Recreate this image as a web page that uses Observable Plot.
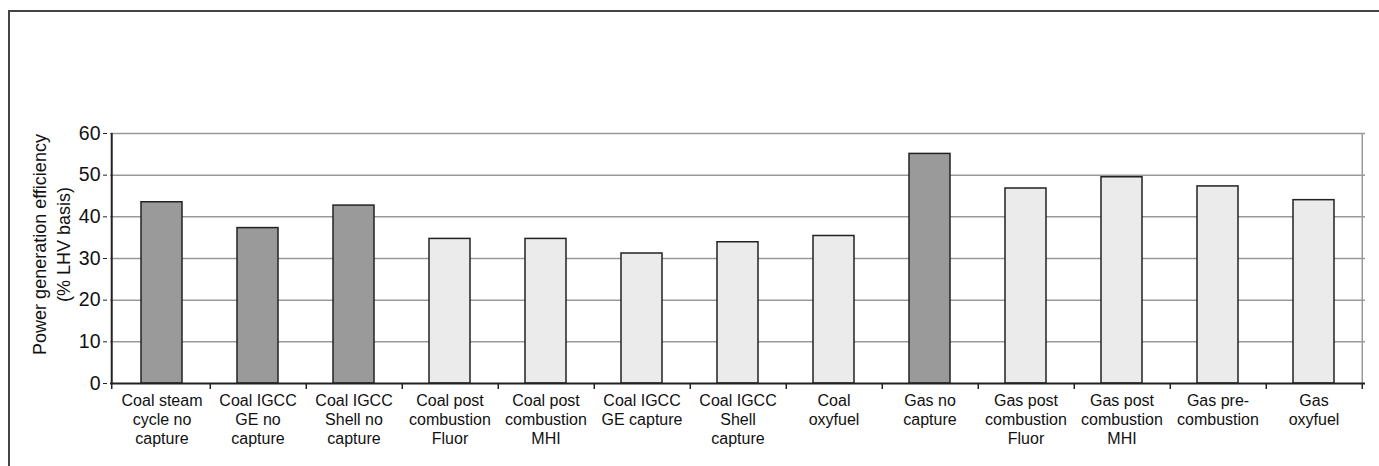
<!DOCTYPE html>
<html>
<head>
<meta charset="utf-8">
<script src="https://cdn.jsdelivr.net/npm/d3@7"></script>
<script src="https://cdn.jsdelivr.net/npm/@observablehq/plot@0.6"></script>
<style>
  html, body { margin: 0; padding: 0; background: #fff; }
  #wrap { position: relative; width: 1379px; height: 466px; overflow: hidden; }
  #border { position: absolute; left: 8px; top: 10px; right: -4px; bottom: -4px;
            border-top: 2px solid #444; border-left: 2px solid #444; }
  #chart { position: absolute; left: 0; top: 0; }
</style>
</head>
<body>
<div id="wrap"><div id="border"></div><div id="chart"></div></div>
<script>
const categories = [
  "Coal steam\ncycle no\ncapture",
  "Coal IGCC\nGE no\ncapture",
  "Coal IGCC\nShell no\ncapture",
  "Coal post\ncombustion\nFluor",
  "Coal post\ncombustion\nMHI",
  "Coal IGCC\nGE capture",
  "Coal IGCC\nShell\ncapture",
  "Coal\noxyfuel",
  "Gas no\ncapture",
  "Gas post\ncombustion\nFluor",
  "Gas post\ncombustion\nMHI",
  "Gas pre-\ncombustion",
  "Gas\noxyfuel"
];
const efficiency = [43.5, 37.3, 42.7, 34.7, 34.7, 31.2, 33.9, 35.4, 55.1, 46.8, 49.5, 47.3, 44.0];
const noCapture = [true, true, true, false, false, false, false, false, true, false, false, false, false];
const yTicks = [0, 10, 20, 30, 40, 50, 60];
const yLabel = "Power generation efficiency\n(% LHV basis)";

const data = categories.map((c, i) => ({cat: c, value: efficiency[i], noCap: noCapture[i]}));

const W = 1379, H = 466, mL = 110, mR = 14, mT = 133, mB = 83;
const step = (W - mL - mR) / categories.length;
const pInner = 0.575;

const chart = Plot.plot({
  width: W, height: H,
  marginLeft: mL, marginRight: mR, marginTop: mT, marginBottom: mB,
  style: {fontFamily: "'Liberation Sans', Arial, Helvetica, sans-serif", color: "#111", background: "transparent"},
  x: {domain: categories, paddingInner: pInner, paddingOuter: pInner / 2, label: null},
  y: {domain: [0, 60], label: null},
  marks: [
    Plot.ruleY(yTicks.filter(d => d > 0), {stroke: "#999", strokeWidth: 1.5}),
    Plot.ruleX([categories[categories.length - 1]], {y1: 0, y2: 60, dx: step / 2, stroke: "#999", strokeWidth: 1.5}),
    Plot.barY(data, {x: "cat", y: "value", fill: d => d.noCap ? "#9a9a9a" : "#ebebeb", stroke: "#222", strokeWidth: 1.5}),
    Plot.ruleY([0], {stroke: "#222", strokeWidth: 2}),
    Plot.ruleX([categories[0]], {y1: 0, y2: 60, dx: -step / 2 - 2, stroke: "#222", strokeWidth: 2}),
    Plot.ruleX(categories, {y1: 0, y2: 0, dx: step / 2, insetBottom: -6, stroke: "#222", strokeWidth: 1.5}),
    Plot.ruleX([categories[0]], {y1: 0, y2: 0, dx: -step / 2 - 2, insetBottom: -6, stroke: "#222", strokeWidth: 1.5}),
    Plot.axisY({ticks: yTicks, tickSize: 4, tickPadding: 3, dx: -3, fontSize: 19.5, label: null, stroke: "#222"}),
    Plot.axisX({tickSize: 0, tickPadding: 9, fontSize: 16, lineHeight: 1.19, label: null}),
    Plot.text([yLabel], {text: d => d, frameAnchor: "left", textAnchor: "middle", dx: -60, dy: -14, rotate: -90, fontSize: 18, lineHeight: 1.35, fill: "#111"})
  ]
});
document.getElementById("chart").appendChild(chart);
</script>
</body>
</html>
